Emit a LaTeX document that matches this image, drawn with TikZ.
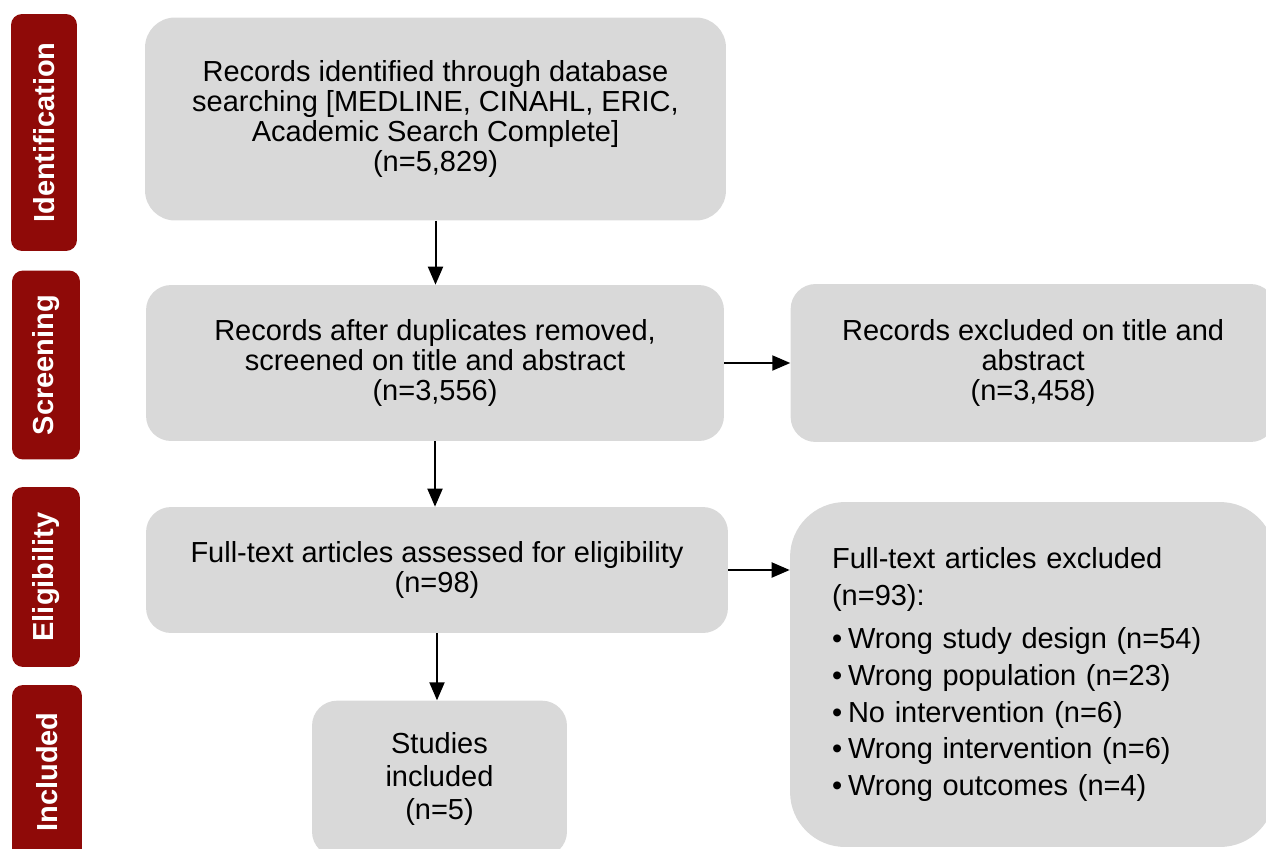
\documentclass[tikz,border=0pt]{standalone}
\usepackage{fontspec}
\setmainfont{Liberation Sans}
\usetikzlibrary{positioning,arrows.meta}

\definecolor{stagered}{RGB}{143,10,8}
\definecolor{boxgrey}{RGB}{217,217,217}

\begin{document}
\begin{tikzpicture}[x=0.02cm, y=-0.02cm,
    every node/.style={text=black, font=\fontsize{16.5}{17.1}\selectfont},
    flowbox/.style={fill=boxgrey, rounded corners=0.5cm, align=center, inner sep=0pt},
    stage/.style={fill=stagered, rounded corners=0.22cm, text=white, rotate=90, inner sep=0pt,
      font=\bfseries\fontsize{16.5}{18}\selectfont},
    arrow/.style={-{Triangle[length=0.36cm, width=0.3cm]}, line width=0.04cm},
    ]
  \useasboundingbox (0,0) rectangle (1266,848);

  % stages down the left side
  \node[stage, minimum width=4.74cm, minimum height=1.32cm] (identification) at (44,132.5) {Identification};
  \node[stage, minimum width=3.78cm, minimum height=1.36cm] (screening) at (46,365) {Screening};
  \node[stage, minimum width=3.6cm, minimum height=1.36cm] (eligibility) at (46,577) {Eligibility};
  \node[stage, minimum width=3.48cm, minimum height=1.4cm] (inclusion) at (47,772) {Included};

  % main flow
  \node[flowbox, rounded corners=0.6cm, minimum width=11.62cm, minimum height=4.06cm] (identified) at (435.5,119)
    {Records identified through database\\searching [MEDLINE, CINAHL, ERIC,\\Academic Search Complete]\\(n=5,829)};
  \node[flowbox, minimum width=11.56cm, minimum height=3.12cm] (screened) at (435,363)
    {Records after duplicates removed,\\screened on title and abstract\\(n=3,556)};
  \node[flowbox, minimum width=11.64cm, minimum height=2.52cm] (fulltext) at (437,570)
    {Full-text articles assessed for eligibility\\(n=98)};
  \node[flowbox, minimum width=5.1cm, minimum height=3.12cm, below=1.34cm of fulltext, xshift=0.05cm,
    font=\fontsize{16.5}{18.8}\selectfont] (included)
    {Studies\\included\\(n=5)};

  % exclusions
  \node[flowbox, minimum width=9.7cm, minimum height=3.16cm, right=1.32cm of screened] (excludedtitle)
    {Records excluded on title and\\abstract\\(n=3,458)};
  \node[flowbox, rounded corners=1.1cm, minimum width=9.7cm, minimum height=6.9cm, align=left,
    inner xsep=0.84cm, text width=8.02cm, font=\fontsize{16.5}{20.8}\selectfont] (excludedfull) at (1032.5,674.5)
    {Full-text articles excluded\\(n=93):\\[4pt]
    \makebox[0.32cm][l]{\textbullet}Wrong study design (n=54)\\
    \makebox[0.32cm][l]{\textbullet}Wrong population (n=23)\\
    \makebox[0.32cm][l]{\textbullet}No intervention (n=6)\\
    \makebox[0.32cm][l]{\textbullet}Wrong intervention (n=6)\\
    \makebox[0.32cm][l]{\textbullet}Wrong outcomes (n=4)};

  \draw[arrow] (identified.south) -- (identified.south |- screened.north);
  \draw[arrow] (screened.south) -- (screened.south |- fulltext.north);
  \draw[arrow] (fulltext.south) -- (fulltext.south |- included.north);
  \draw[arrow] (screened.east) -- (screened.east -| excludedtitle.west);
  \draw[arrow] (fulltext.east) -- (fulltext.east -| excludedfull.west);
\end{tikzpicture}
\end{document}
